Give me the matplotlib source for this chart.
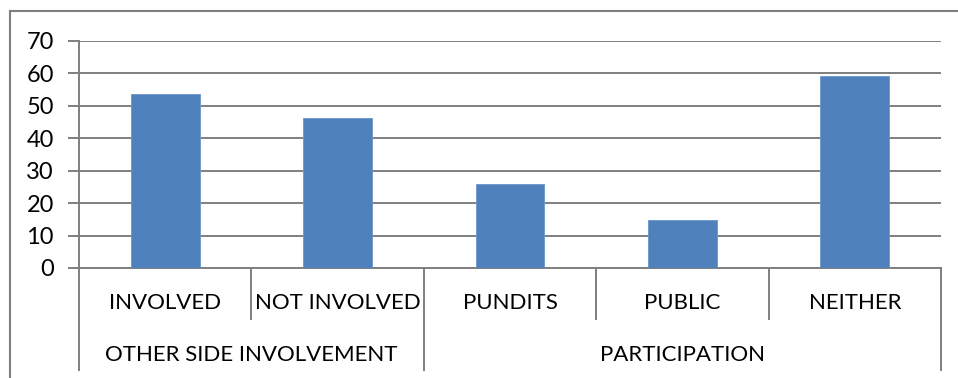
import matplotlib.pyplot as plt
import matplotlib.transforms as mtransforms
from matplotlib.lines import Line2D

# survey results (percent)
categories = ['INVOLVED', 'NOT INVOLVED', 'PUNDITS', 'PUBLIC', 'NEITHER']
values = [53.7, 46.1, 25.8, 14.7, 59.1]
groups = ['OTHER SIDE INVOLVEMENT', 'PARTICIPATION']
group_sizes = [2, 3]

plt.rcParams['font.family'] = ['Lato', 'DejaVu Sans']

W, H = 958, 378
grey = '#7F7F7F'
bar_col = '#4F81BD'

def fx(px):
    return px / W

def fy(py):
    return 1 - py / H

fig = plt.figure(figsize=(W / 100, H / 100), dpi=100)

# chart border (top and left edges visible)
fig.add_artist(Line2D([fx(10), fx(10)], [fy(11), 0], color=grey, lw=1.5))
fig.add_artist(Line2D([fx(10), 1], [fy(11), fy(11)], color=grey, lw=1.5))

left, right, top, bottom = 79, 941, 40.7, 268
ax = fig.add_axes([fx(left), fy(bottom), fx(right - left), (bottom - top) / H])

x = list(range(len(categories)))
ax.bar(x, values, width=0.4, color=bar_col, edgecolor='#6A95CC', linewidth=0.6, zorder=3)

ax.set_xlim(-0.5, len(categories) - 0.5)
ax.set_ylim(0, 70)
ax.set_yticks(range(0, 71, 10))
ax.yaxis.grid(True, color=grey, lw=1.4, zorder=0)
ax.tick_params(axis='y', length=8, width=1.4, color=grey, labelsize=17, pad=10)
ax.set_xticks([])
for s in ['top', 'right']:
    ax.spines[s].set_visible(False)
for s in ['left', 'bottom']:
    ax.spines[s].set_color(grey)
    ax.spines[s].set_linewidth(1.4)

# two-level category axis
trans = mtransforms.blended_transform_factory(ax.transData, ax.transAxes)
h = bottom - top
inner = -(319 - bottom) / h
outer = -(370 - bottom) / h
lab_y = -(303 - bottom) / h
grp_y = -(355 - bottom) / h

bounds = [-0.5]
for n in group_sizes:
    bounds.append(bounds[-1] + n)

for i in range(len(categories) + 1):
    xe = i - 0.5
    y_end = outer if xe in bounds else inner
    ax.plot([xe, xe], [0, y_end], color=grey, lw=1.4, transform=trans, clip_on=False)

for i, c in enumerate(categories):
    ax.text(i, lab_y, c, transform=trans, ha='center', va='center', fontsize=16)

for g, a, b in zip(groups, bounds[:-1], bounds[1:]):
    ax.text((a + b) / 2, grp_y, g, transform=trans, ha='center', va='center', fontsize=16)

fig.savefig('out.png', dpi=100)
